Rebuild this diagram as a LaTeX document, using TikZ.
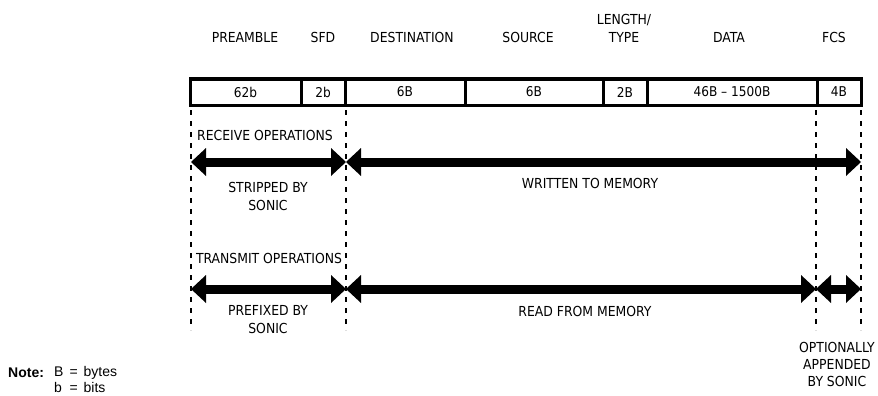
\documentclass[tikz,border=0pt]{standalone}
\usepackage{fontspec}
\setmainfont{DejaVu Sans Condensed}
\newfontfamily\notefont{Liberation Sans}
\usetikzlibrary{arrows.meta,positioning}

\tikzset{
  cell/.style={rectangle, draw, line width=3pt, minimum height=26pt,
    inner sep=0pt, outer sep=0pt, font=\fontsize{13.5}{16}\selectfont},
  lbl/.style={inner sep=0pt, align=center, font=\fontsize{13.8}{18}\selectfont},
  bound/.style={line width=1.2pt, dash pattern=on 5pt off 6pt},
  flow/.style={line width=9pt,
    {Triangle[length=15pt,width=28pt,line width=0pt]}-{Triangle[length=15pt,width=28pt,line width=0pt]}}
}

\begin{document}
\begin{tikzpicture}[x=1pt,y=-1pt]
\useasboundingbox (0,0) rectangle (878,396);

% frame fields
\node[cell, minimum width=111pt] (pre) at (245.5,92) {62b};
\node[cell, minimum width=44pt]  (sfd) at (323,92)   {2b};
\node[cell, minimum width=120pt] (dst) at (405,92)   {6B};
\node[cell, minimum width=138pt] (src) at (534,92)   {6B};
\node[cell, minimum width=44pt]  (len) at (625,92)   {2B};
\node[cell, minimum width=170pt] (dat) at (732,92)   {46B -- 1500B};
\node[cell, minimum width=44pt]  (fcs) at (839,92)   {4B};

% field names
\node[lbl] (preT) at (245,37) {PREAMBLE};
\node[lbl] (sfdT) at (323,37) {SFD};
\node[lbl] (dstT) at (412,37) {DESTINATION};
\node[lbl] (srcT) at (528,37) {SOURCE};
\node[lbl] (lenT) at (624,28) {LENGTH/\\TYPE};
\node[lbl] (datT) at (729,37) {DATA};
\node[lbl] (fcsT) at (834,37) {FCS};

% boundaries
\coordinate (b1t) at (191,110); \coordinate (b1b) at (191,330);
\coordinate (b2t) at (346,110); \coordinate (b2b) at (346,330);
\coordinate (b3t) at (816,110); \coordinate (b3b) at (816,330);
\coordinate (b4t) at (861,110); \coordinate (b4b) at (861,330);
\foreach \b in {1,2,3,4}
  \draw[bound] (b\b t) -- (b\b b);

% Receive
\coordinate (r1) at (191,162);
\coordinate (r2) at (346,162);
\coordinate (r3) at (861,162);
\draw[flow] (r1) -- (r2);
\draw[flow] (r2) -- (r3);
\node[lbl] (rxT) at (265,135) {RECEIVE OPERATIONS};
\node[lbl] (rxA) at (268,196) {STRIPPED BY\\SONIC};
\node[lbl] (rxB) at (590,183) {WRITTEN TO MEMORY};

% Transmit
\coordinate (t1) at (191,289);
\coordinate (t2) at (346,289);
\coordinate (t3) at (816,289);
\coordinate (t4) at (861,289);
\draw[flow] (t1) -- (t2);
\draw[flow] (t2) -- (t3);
\draw[flow] (t3) -- (t4);
\node[lbl] (txT) at (269,258) {TRANSMIT OPERATIONS};
\node[lbl] (txA) at (268,320) {PREFIXED BY\\SONIC};
\node[lbl] (txB) at (585,311) {READ FROM MEMORY};
\node[lbl, font=\fontsize{13.8}{17}\selectfont] (txC) at (837,364) {OPTIONALLY\\APPENDED\\BY SONIC};

% Note
\node[anchor=west, inner sep=0pt, font=\notefont\fontsize{14}{16}\selectfont] (note) at (8,373) {\textbf{Note:}};
\node[anchor=north west, inner sep=0pt, font=\notefont\fontsize{14}{16}\selectfont] (keys) at (54,365)
  {\begin{tabular}{@{}l@{\hspace{6pt}=\hspace{6pt}}l@{}}B & bytes\\ b & bits\end{tabular}};
\end{tikzpicture}
\end{document}
